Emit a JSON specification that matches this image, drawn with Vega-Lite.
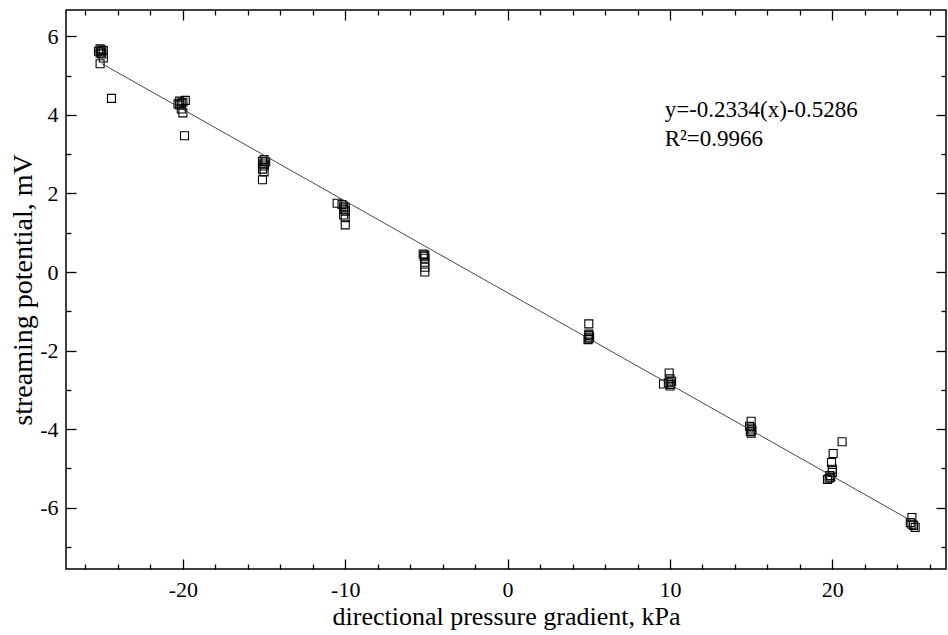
{
  "$schema": "https://vega.github.io/schema/vega-lite/v6.json",
  "width": 880,
  "height": 559,
  "autosize": {"type": "none"},
  "padding": {"left": 66, "top": 10, "right": 2, "bottom": 66},
  "background": "white",
  "config": {
    "view": {"stroke": "black", "strokeWidth": 1.5},
    "font": "Liberation Serif",
    "axis": {"grid": false, "domain": false, "tickColor": "black", "tickWidth": 1.3, "labelColor": "black", "titleColor": "black", "labelFont": "Liberation Serif", "titleFont": "Liberation Serif", "titleFontWeight": "normal"}
  },
  "datasets": {
    "obs": [
      {"x": -25.1, "y": 5.68}, {"x": -25.0, "y": 5.65}, {"x": -25.2, "y": 5.62}, {"x": -25.05, "y": 5.6}, {"x": -24.9, "y": 5.64},
      {"x": -25.1, "y": 5.57}, {"x": -25.0, "y": 5.55}, {"x": -24.9, "y": 5.45}, {"x": -25.1, "y": 5.3}, {"x": -24.4, "y": 4.42},
      {"x": -20.2, "y": 4.35}, {"x": -20.1, "y": 4.3}, {"x": -20.3, "y": 4.28}, {"x": -20.2, "y": 4.25}, {"x": -20.0, "y": 4.32},
      {"x": -19.85, "y": 4.37}, {"x": -20.1, "y": 4.15}, {"x": -20.0, "y": 4.05}, {"x": -19.9, "y": 3.47},
      {"x": -15.0, "y": 2.86}, {"x": -15.1, "y": 2.82}, {"x": -14.9, "y": 2.8}, {"x": -15.0, "y": 2.75}, {"x": -15.0, "y": 2.7},
      {"x": -15.1, "y": 2.62}, {"x": -15.0, "y": 2.55}, {"x": -15.1, "y": 2.35},
      {"x": -10.5, "y": 1.75}, {"x": -10.2, "y": 1.72}, {"x": -10.1, "y": 1.68}, {"x": -10.0, "y": 1.65}, {"x": -10.1, "y": 1.6},
      {"x": -10.0, "y": 1.55}, {"x": -10.1, "y": 1.45}, {"x": -10.0, "y": 1.38}, {"x": -10.0, "y": 1.2},
      {"x": -5.2, "y": 0.46}, {"x": -5.1, "y": 0.43}, {"x": -5.15, "y": 0.4}, {"x": -5.1, "y": 0.35}, {"x": -5.1, "y": 0.25},
      {"x": -5.1, "y": 0.12}, {"x": -5.1, "y": 0.0},
      {"x": 5.0, "y": -1.32}, {"x": 5.0, "y": -1.58}, {"x": 5.0, "y": -1.62}, {"x": 5.05, "y": -1.66}, {"x": 5.0, "y": -1.7}, {"x": 4.95, "y": -1.72},
      {"x": 9.95, "y": -2.57}, {"x": 10.0, "y": -2.72}, {"x": 10.1, "y": -2.78}, {"x": 9.9, "y": -2.82}, {"x": 10.05, "y": -2.86},
      {"x": 9.6, "y": -2.85}, {"x": 10.0, "y": -2.9},
      {"x": 15.0, "y": -3.8}, {"x": 14.9, "y": -3.93}, {"x": 15.0, "y": -3.97}, {"x": 15.05, "y": -4.02}, {"x": 14.95, "y": -4.06}, {"x": 15.0, "y": -4.1},
      {"x": 19.7, "y": -5.28}, {"x": 19.8, "y": -5.25}, {"x": 19.9, "y": -5.22}, {"x": 19.85, "y": -5.18}, {"x": 20.0, "y": -5.1},
      {"x": 20.0, "y": -5.02}, {"x": 19.95, "y": -4.85}, {"x": 20.05, "y": -4.62}, {"x": 20.6, "y": -4.32},
      {"x": 24.9, "y": -6.25}, {"x": 24.8, "y": -6.38}, {"x": 24.9, "y": -6.42}, {"x": 25.0, "y": -6.45}, {"x": 25.1, "y": -6.5}
    ],
    "fit": [
      {"x": -25, "y": 5.3064},
      {"x": 25, "y": -6.3636}
    ]
  },
  "layer": [
    {
      "data": {"name": "obs"},
      "mark": {"type": "point", "shape": "square", "filled": false, "stroke": "black", "strokeWidth": 1.1, "size": 64, "opacity": 1},
      "encoding": {
        "x": {
          "field": "x", "type": "quantitative",
          "scale": {"domain": [-27.2, 27.0], "nice": false, "zero": false},
          "axis": {
            "orient": "bottom",
            "title": "directional pressure gradient, kPa",
            "titleFontSize": 26,
            "titlePadding": 3,
            "values": [-26, -24, -22, -20, -18, -16, -14, -12, -10, -8, -6, -4, -2, 0, 2, 4, 6, 8, 10, 12, 14, 16, 18, 20, 22, 24, 26],
            "labelExpr": "datum.value % 10 === 0 ? toString(datum.value) : ''",
            "labelFontSize": 22,
            "labelPadding": 20,
            "tickSize": {"condition": {"test": "datum.value % 10 === 0", "value": -10}, "value": -5}
          }
        },
        "y": {
          "field": "y", "type": "quantitative",
          "scale": {"domain": [-7.56, 6.67], "nice": false, "zero": false},
          "axis": {
            "orient": "left",
            "title": "streaming potential, mV",
            "titleFontSize": 28,
            "titlePadding": 2,
            "values": [-7, -6, -5, -4, -3, -2, -1, 0, 1, 2, 3, 4, 5, 6],
            "labelExpr": "datum.value % 2 === 0 ? toString(datum.value) : ''",
            "labelFontSize": 22,
            "labelPadding": 18,
            "tickSize": {"condition": {"test": "datum.value % 2 === 0", "value": -10}, "value": -5}
          }
        }
      }
    },
    {
      "data": {"name": "fit"},
      "mark": {"type": "line", "color": "#333333", "strokeWidth": 0.9},
      "encoding": {
        "x": {
          "field": "x", "type": "quantitative",
          "axis": {
            "orient": "top", "title": null, "labels": false,
            "values": [-26, -24, -22, -20, -18, -16, -14, -12, -10, -8, -6, -4, -2, 0, 2, 4, 6, 8, 10, 12, 14, 16, 18, 20, 22, 24, 26],
            "tickSize": {"condition": {"test": "datum.value % 10 === 0", "value": -10}, "value": -5}
          }
        },
        "y": {
          "field": "y", "type": "quantitative",
          "axis": {
            "orient": "right", "title": null, "labels": false,
            "values": [-7, -6, -5, -4, -3, -2, -1, 0, 1, 2, 3, 4, 5, 6],
            "tickSize": {"condition": {"test": "datum.value % 2 === 0", "value": -10}, "value": -5}
          }
        }
      }
    },
    {
      "data": {"values": [{"label": "y=-0.2334(x)-0.5286\nR²=0.9966"}]},
      "mark": {"type": "text", "align": "left", "baseline": "alphabetic", "fontSize": 23, "font": "Liberation Serif", "color": "black", "lineBreak": "\n", "lineHeight": 29},
      "encoding": {
        "x": {"datum": 9.67, "axis": null},
        "y": {"datum": 3.94, "axis": null},
        "text": {"field": "label"}
      }
    }
  ],
  "resolve": {"axis": {"x": "independent", "y": "independent"}}
}
